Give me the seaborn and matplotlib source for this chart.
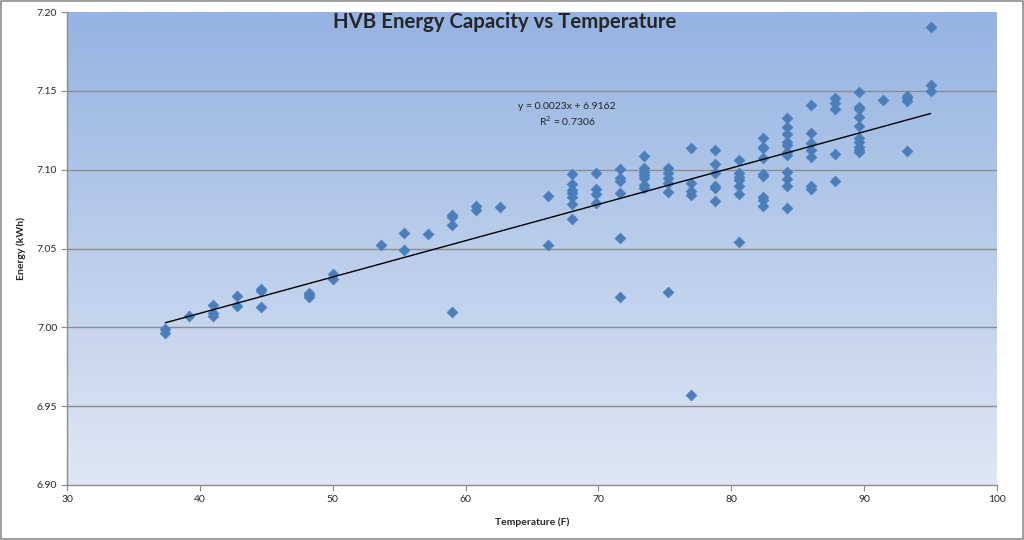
import numpy as np
import pandas as pd
import matplotlib
matplotlib.use("Agg")
import matplotlib.pyplot as plt
import seaborn as sns
from matplotlib.patches import Rectangle
from matplotlib.colors import LinearSegmentedColormap

# ---- data ----
temps_f = (
    [37.4] * 2 + [39.2] * 1 + [41.0] * 3 + [42.8] * 2 + [44.6] * 3 + [48.2] * 3 +
    [50.0] * 2 + [53.6] * 1 + [55.4] * 2 + [57.2] * 1 + [59.0] * 4 + [60.8] * 2 +
    [62.6] * 1 + [66.2] * 2 + [68.0] * 7 + [69.8] * 4 + [71.6] * 6 + [73.4] * 7 +
    [75.2] * 6 + [77.0] * 5 + [78.8] * 6 + [80.6] * 7 + [82.4] * 9 + [84.2] * 11 +
    [86.0] * 7 + [87.8] * 5 + [89.6] * 10 + [91.4] * 1 + [93.2] * 4 + [95.0] * 3
)
energy_kwh = [
    6.9988, 6.9963,
    7.0073,
    7.0142, 7.0090, 7.0073,
    7.0199, 7.0136,
    7.0242, 7.0233, 7.0128,
    7.0220, 7.0206, 7.0195,
    7.0339, 7.0307,
    7.0523,
    7.0601, 7.0491,
    7.0593,
    7.0715, 7.0700, 7.0650, 7.0096,
    7.0770, 7.0745,
    7.0765,
    7.0830, 7.0520,
    7.0970, 7.0907, 7.0871, 7.0854, 7.0825, 7.0780, 7.0690,
    7.0977, 7.0876, 7.0846, 7.0787,
    7.1003, 7.0946, 7.0931, 7.0854, 7.0565, 7.0195,
    7.1087, 7.1009, 7.0988, 7.0967, 7.0946, 7.0903, 7.0882,
    7.1009, 7.0981, 7.0946, 7.0914, 7.0861, 7.0227,
    7.1140, 7.0914, 7.0867, 7.0840, 6.9570,
    7.1125, 7.1036, 7.0981, 7.0897, 7.0882, 7.0802,
    7.1062, 7.0981, 7.0956, 7.0935, 7.0897, 7.0844, 7.0544,
    7.1199, 7.1146, 7.1136, 7.1072, 7.0973, 7.0960, 7.0829, 7.0808, 7.0770,
    7.1326, 7.1269, 7.1225, 7.1178, 7.1157, 7.1115, 7.1094, 7.0988, 7.0940, 7.0897, 7.0760,
    7.1410, 7.1235, 7.1171, 7.1125, 7.1079, 7.0897, 7.0876,
    7.1453, 7.1425, 7.1383, 7.1100, 7.0931,
    7.1495, 7.1400, 7.1383, 7.1332, 7.1277, 7.1199, 7.1178, 7.1146, 7.1125, 7.1115,
    7.1442,
    7.1467, 7.1453, 7.1438, 7.1121,
    7.1903, 7.1537, 7.1499,
]
x_ticks = [30, 40, 50, 60, 70, 80, 90, 100]
y_ticks = [6.90, 6.95, 7.00, 7.05, 7.10, 7.15, 7.20]
title = "HVB Energy Capacity vs Temperature"
x_label = "Temperature (F)"
y_label = "Energy (kWh)"
eq_text = "y = 0.0023x + 6.9162\nR$^2$ = 0.7306"

df = pd.DataFrame({"temp": temps_f, "energy": energy_kwh})

sns.set_theme(style="white")
plt.rcParams["font.family"] = ["Lato", "DejaVu Sans"]

fig = plt.figure(figsize=(10.24, 5.4), dpi=100)
ax = fig.add_axes([67 / 1024, 1 - 485 / 540, (997 - 67) / 1024, (485 - 12) / 540])

# gradient background
cmap = LinearSegmentedColormap.from_list("bg", ["#dfe7f4", "#95b3e2"])
grad = np.linspace(0, 1, 256).reshape(-1, 1)
ax.imshow(grad, aspect="auto", cmap=cmap, origin="lower",
          extent=[0, 1, 0, 1], transform=ax.transAxes, zorder=0)

for yv in y_ticks[1:-1]:
    ax.axhline(yv, color="#8c8c8c", lw=1.0, zorder=1)

sns.scatterplot(data=df, x="temp", y="energy", marker="D", s=30,
                color="#4a7ebb", edgecolor="#4a7ebb", linewidth=0.5,
                ax=ax, zorder=3)
sns.regplot(data=df, x="temp", y="energy", scatter=False, ci=None,
            truncate=True, ax=ax,
            line_kws={"color": "black", "lw": 1.0, "zorder": 4})

ax.set_xlim(30, 100)
ax.set_ylim(6.90, 7.20)
ax.set_xticks(x_ticks)
ax.set_yticks(y_ticks)
ax.set_xticklabels([str(t) for t in x_ticks])
ax.set_yticklabels([f"{t:.2f}" for t in y_ticks])
ax.tick_params(axis="both", which="major", length=4, width=0.8, color="#8c8c8c",
               labelsize=7.5, direction="out", bottom=True, left=True, pad=3)

for side in ["left", "bottom"]:
    ax.spines[side].set_color("#8c8c8c")
    ax.spines[side].set_linewidth(1.0)
for side in ["top", "right"]:
    ax.spines[side].set_visible(False)

ax.set_xlabel(x_label, fontsize=7.5, fontweight="bold", labelpad=10)
ax.set_ylabel(y_label, fontsize=7.5, fontweight="bold", labelpad=8)

fig.text(505 / 1024, 1 - 22 / 540, title, ha="center", va="center",
         fontsize=14.7, fontweight="bold")
eq_x = 30 + (567 - 67) / (997 - 67) * 70
ax.text(eq_x, 7.1347, eq_text, ha="center", va="center", fontsize=7.5,
        linespacing=1.25, zorder=5)

# outer chart border
fig.patches.append(Rectangle((0.001, 0.002), 0.998, 0.996, transform=fig.transFigure,
                             fill=False, edgecolor="#8c8c8c", lw=1.2))

fig.savefig("out.png", dpi=100)
